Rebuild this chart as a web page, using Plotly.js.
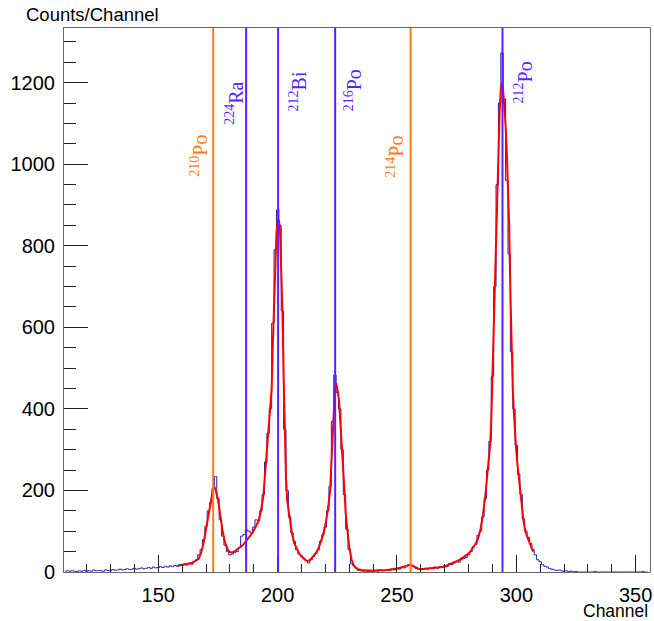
<!DOCTYPE html>
<html>
<head>
<meta charset="utf-8">
<script src="https://cdn.plot.ly/plotly-3.0.1.min.js"></script>
<style>html,body{margin:0;padding:0;background:#fff;}#chart{width:654px;height:621px;}</style>
</head>
<body>
<div id="chart"></div>
<script>
// Histogram: bin width 1 channel, first bin centred at channel 111
const histFirstBin = 111;
const histBinWidth = 1;
const histCounts = [
  2,3,2,3,2,1,3,2,4,2,
  3,2,5,3,4,3,2,5,4,3,
  6,4,5,7,5,6,8,6,7,9,
  7,8,10,8,9,11,9,12,10,11,
  13,11,14,12,15,13,16,
  14,18,16,20,17,22,19,26,30,42,55,80,112,150,170,205,234,180,128,88,66,50,42,44,48,50,
  60,88,92,103,100,96,110,128,125,150,190,270,340,400,610,790,888,850,640,350,200,135,96,75,55,
  44,40,33,28,22,30,38,45,55,75,92,110,150,210,370,483,440,400,300,190,105,55,20,15,10,
  4,3,2,3,1,2,4,3,2,5,3,4,6,4,7,5,8,7,12,10,
  15,18,16,14,9,7,8,6,9,7,10,8,12,9,13,11,16,13,20,18,
  22,25,24,30,33,36,42,50,62,68,90,100,135,180,250,320,480,700,950,1150,
  1273,1160,960,780,540,400,310,240,190,130,100,85,70,55,42,30,25,18,14,12,
  8,7,5,4,5,3,2,3,1,2,1,1,0,0,0,0,0,0,0,1,
  0,0,0,0,0,0,0,0,0,0,0,0,0,0,0,0,0,0,0,1,
  0,0
];

// Fit curve (red)
const fitChannel = [158,160,162,164,165,166,167,168,169,170,171,172,173,173.5,174,175,176,177,178,179,180,181,182,183,184,185,186,187,188,189,190,191,192,193,194,195,196,197,197.5,198,198.5,199,199.5,200,200.5,201,201.5,202,202.5,203,203.5,204,205,206,207,208,209,210,211,212,212.5,213,214,215,216,217,218,219,220,221,222,223,223.5,224,224.5,225,225.7,226,227,228,228.5,229,230,231,232,233,234,236,238,240,242,244,246,248,250,252,254,255,256,257,258,259,260,262,264,266,268,270,272,274,276,278,279,280,281,282,283,284,285,286,287,288,289,289.5,290,290.5,291,291.5,292,292.5,293,293.5,294,294.5,295,295.5,296,296.5,297,297.5,298,298.5,299,299.5,300,300.5,301,301.5,302,302.5,303,303.5,304,305,306,307];
const fitCounts = [15,17,19,22,25,28,33,48,72,105,138,180,205,209,202,178,135,98,72,56,49,48,51,55,59,64,70,77,84,92,102,112,125,150,185,260,335,390,450,560,667,770,830,858,864,840,760,640,480,340,230,175,128,95,70,56,46,38,32,28,27,28,32,38,46,56,72,90,115,150,200,320,400,450,463,450,422,395,310,200,144,110,60,30,15,9,6,4,3,3,4,4,5,7,9,11,15,17,17,14,10,8,7,8,9,10,11,13,19,24,29,37,41,46,52,60,70,83,105,140,185,250,310,370,460,590,700,810,920,1040,1130,1185,1199,1180,1140,1093,1030,950,850,690,530,450,390,335,295,262,232,210,180,150,125,108,96,80,64,50];

// Reference lines
const lineChannels = [173.0, 186.8, 200.2, 224.1, 255.7, 294.2];
const lineMass = ['210', '224', '212', '216', '214', '212'];
const lineElement = ['Po', 'Ra', 'Bi', 'Po', 'Po', 'Po'];
const lineColors = ['#ff7a1a', '#5a1fff', '#5a1fff', '#5a1fff', '#ff7a1a', '#5a1fff'];
const labelXShift = [-14, -12, 20, 18, -16, 21];
const labelYPaper = [0.808, 0.904, 0.924, 0.928, 0.805, 0.943];

const traces = [
  {
    type: 'scatter', mode: 'lines',
    y: histCounts, x0: histFirstBin, dx: histBinWidth,
    line: {shape: 'hvh', color: '#1f1fb0', width: 1},
    hoverinfo: 'skip'
  },
  {
    type: 'scatter', mode: 'lines',
    x: fitChannel, y: fitCounts,
    line: {color: '#ff0000', width: 2},
    hoverinfo: 'skip'
  }
];

const shapes = lineChannels.map((c, i) => ({
  type: 'line', xref: 'x', yref: 'paper', x0: c, x1: c, y0: 0, y1: 1,
  line: {color: lineColors[i], width: 2}
}));

const annotations = lineChannels.map((c, i) => ({
  xref: 'x', yref: 'paper', x: c, y: labelYPaper[i], xshift: labelXShift[i],
  text: '<sup>' + lineMass[i] + '</sup>' + lineElement[i],
  textangle: -90, showarrow: false,
  font: {family: 'Liberation Serif, Times New Roman, serif', size: 20, color: lineColors[i]}
}));
annotations.push({
  xref: 'paper', yref: 'paper', x: -0.068, y: 1.0, yshift: 14, xanchor: 'left', yanchor: 'middle',
  text: 'Counts/Channel', showarrow: false,
  font: {family: 'Liberation Sans, Arial, sans-serif', size: 18.5, color: '#000'}
});
annotations.push({
  xref: 'paper', yref: 'paper', x: 1.0, y: 0, yshift: -39, xanchor: 'right', yanchor: 'middle',
  text: 'Channel', showarrow: false,
  font: {family: 'Liberation Sans, Arial, sans-serif', size: 17.5, color: '#000'}
});

const layout = {
  width: 654, height: 621,
  margin: {l: 64, r: 4, t: 28, b: 49},
  paper_bgcolor: '#fff', plot_bgcolor: '#fff',
  showlegend: false,
  font: {family: 'Liberation Sans, Arial, sans-serif', size: 20, color: '#000'},
  xaxis: {
    range: [110.5, 356], tick0: 0, dtick: 50,
    ticks: 'inside', ticklen: 17, tickcolor: '#222', tickwidth: 1,
    minor: {dtick: 10, ticks: 'inside', ticklen: 8, tickcolor: '#222'},
    showgrid: false, zeroline: false,
    showline: true, linecolor: '#666', linewidth: 1, mirror: true,
    tickfont: {size: 20}, ticklabelstandoff: 5
  },
  yaxis: {
    range: [0, 1334], tick0: 0, dtick: 200,
    ticks: 'inside', ticklen: 24, tickcolor: '#222', tickwidth: 1,
    minor: {dtick: 50, ticks: 'inside', ticklen: 12, tickcolor: '#222'},
    showgrid: false, zeroline: false,
    showline: true, linecolor: '#666', linewidth: 1, mirror: true,
    tickfont: {size: 20}, ticklabelstandoff: 4
  },
  shapes: shapes,
  annotations: annotations
};

Plotly.newPlot('chart', traces, layout, {staticPlot: true, displayModeBar: false});
</script>
</body>
</html>
